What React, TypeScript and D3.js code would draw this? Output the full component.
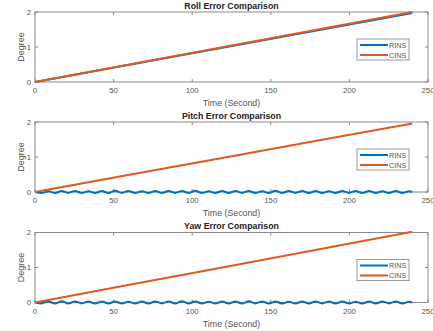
import React from "react";
import * as d3 from "d3";

// Sampled times (s) of the straight error drifts
const driftTime = [0, 60, 120, 180, 240];
const rollRins = [0, 0.49, 0.985, 1.475, 1.97];
const rollCins = [0, 0.5, 1.0, 1.5, 2.0];
const pitchCins = [0, 0.49, 0.98, 1.47, 1.96];
const yawCins = [0, 0.505, 1.01, 1.515, 2.02];

// RINS pitch / yaw errors: small oscillation around zero
const rinsTime = [
  0, 4.2, 8.5, 12.7, 17.0, 21.2, 25.5, 29.7, 34.0, 38.2, 42.5, 46.7, 51.0, 55.2, 59.5,
  63.7, 68.0, 72.2, 76.5, 80.7, 85.0, 89.2, 93.5, 97.7, 102.0, 106.2, 110.5, 114.7,
  119.0, 123.2, 127.5, 131.7, 136.0, 140.2, 144.5, 148.7, 153.0, 157.2, 161.5, 165.7,
  170.0, 174.2, 178.5, 182.7, 187.0, 191.2, 195.5, 199.7, 204.0, 208.2, 212.5, 216.7,
  221.0, 225.2, 229.5, 233.7, 238.0, 240,
];
const pitchRins = [
  0, -0.03, 0.025, -0.03, 0.03, -0.025, 0.03, -0.03, 0.025, -0.03, 0.03, -0.03, 0.035, -0.025,
  0.03, -0.03, 0.025, -0.03, 0.03, -0.03, 0.03, -0.025, 0.03, -0.03, 0.035, -0.03, 0.025,
  -0.03, 0.03, -0.03, 0.03, -0.025, 0.03, -0.03, 0.025, -0.03, 0.035, -0.03, 0.03, -0.025,
  0.03, -0.03, 0.03, -0.03, 0.025, -0.03, 0.03, -0.025, 0.03, -0.03, 0.03, -0.03, 0.025,
  -0.03, 0.03, -0.03, 0.02, 0,
];
const yawRins = [
  0, -0.025, 0.03, -0.03, 0.035, -0.03, 0.03, -0.025, 0.03, -0.03, 0.03, -0.03, 0.03, -0.03,
  0.025, -0.03, 0.03, -0.03, 0.03, -0.025, 0.03, -0.03, 0.035, -0.03, 0.03, -0.03, 0.025,
  -0.03, 0.03, -0.03, 0.03, -0.03, 0.035, -0.025, 0.03, -0.03, 0.03, -0.03, 0.025, -0.03,
  0.03, -0.03, 0.03, -0.025, 0.03, -0.03, 0.03, -0.03, 0.025, -0.03, 0.03, -0.03, 0.03,
  -0.025, 0.03, -0.03, 0.02, 0,
];

const xTicks = [0, 50, 100, 150, 200, 250];
const yTicks = [0, 1, 2];
const seriesNames = ["RINS", "CINS"];
const panelTitles = ["Roll Error Comparison", "Pitch Error Comparison", "Yaw Error Comparison"];

const W = 433;
const H = 331;
const BLUE = "#0072BD";
const ORANGE = "#DE5A1F";
const AXIS = "#8a8a8a";
const TEXT = "#555";
const FONT = "'Liberation Sans', Arial, sans-serif";

type Pt = [number, number];
const zip = (t: number[], v: number[]): Pt[] => t.map((d, i) => [d, v[i]]);

const panels = [
  { title: panelTitles[0], rins: zip(driftTime, rollRins), cins: zip(driftTime, rollCins), smooth: false },
  { title: panelTitles[1], rins: zip(rinsTime, pitchRins), cins: zip(driftTime, pitchCins), smooth: true },
  { title: panelTitles[2], rins: zip(rinsTime, yawRins), cins: zip(driftTime, yawCins), smooth: true },
];

const left = 35;
const right = 428;
const panelTop = [12, 122, 232.5];
const plotH = 70;

function Panel({ top, p }: { top: number; p: (typeof panels)[number] }) {
  const x = d3.scaleLinear().domain([0, 250]).range([left, right]);
  const y = d3.scaleLinear().domain([0, 2]).range([top + plotH, top]);
  const lineStraight = d3.line<Pt>().x((d) => x(d[0])).y((d) => y(d[1]));
  const lineSmooth = d3
    .line<Pt>()
    .x((d) => x(d[0]))
    .y((d) => y(d[1]))
    .curve(d3.curveMonotoneX);
  const rinsPath = (p.smooth ? lineSmooth : lineStraight)(p.rins) || "";
  const cinsPath = lineStraight(p.cins) || "";
  const bottom = top + plotH;
  const tick = 3;
  const lx = 357;
  const ly = top + 27;
  return (
    <g>
      <rect x={left} y={top} width={right - left} height={plotH} fill="#fff" stroke={AXIS} strokeWidth={1} />
      {xTicks.map((t) => (
        <g key={"x" + t}>
          <line x1={x(t)} x2={x(t)} y1={bottom} y2={bottom - tick} stroke={AXIS} />
          <line x1={x(t)} x2={x(t)} y1={top} y2={top + tick} stroke={AXIS} />
          <text x={x(t)} y={bottom + 11} textAnchor="middle" fontSize={7.8} fill={TEXT} fontFamily={FONT}>
            {t}
          </text>
        </g>
      ))}
      {yTicks.map((t) => (
        <g key={"y" + t}>
          <line x1={left} x2={left + tick} y1={y(t)} y2={y(t)} stroke={AXIS} />
          <line x1={right} x2={right - tick} y1={y(t)} y2={y(t)} stroke={AXIS} />
          <text x={31} y={y(t) + 2.8} textAnchor="end" fontSize={7.8} fill={TEXT} fontFamily={FONT}>
            {t}
          </text>
        </g>
      ))}
      <path d={rinsPath} fill="none" stroke={BLUE} strokeWidth={2} strokeLinejoin="round" />
      <path d={cinsPath} fill="none" stroke={ORANGE} strokeWidth={2} strokeLinejoin="round" />
      <text x={(left + right) / 2} y={top - 3.5} textAnchor="middle" fontSize={8.8} fontWeight="bold" fill="#222" fontFamily={FONT}>
        {p.title}
      </text>
      <text x={(left + right) / 2} y={bottom + 24} textAnchor="middle" fontSize={8.8} fill={TEXT} fontFamily={FONT}>
        Time (Second)
      </text>
      <text
        transform={`translate(24, ${top + plotH / 2}) rotate(-90)`}
        textAnchor="middle"
        fontSize={9}
        fill={TEXT}
        fontFamily={FONT}
      >
        Degree
      </text>
      <g>
        <rect x={lx} y={ly} width={52} height={21} fill="#fff" stroke="#999" strokeWidth={1} />
        {seriesNames.map((n, i) => (
          <g key={n}>
            <line
              x1={lx + 3}
              x2={lx + 31}
              y1={ly + 6 + i * 10}
              y2={ly + 6 + i * 10}
              stroke={i === 0 ? BLUE : ORANGE}
              strokeWidth={2}
            />
            <text x={lx + 32} y={ly + 8.5 + i * 10} fontSize={7.2} fill={TEXT} fontFamily={FONT}>
              {n}
            </text>
          </g>
        ))}
      </g>
    </g>
  );
}

export default function App() {
  return (
    <svg
      width={W}
      height={H}
      viewBox={`0 0 ${W} ${H}`}
      style={{ position: "absolute", left: 0, top: 0, background: "#fff" }}
    >
      <rect width={W} height={H} fill="#fff" />
      {panels.map((p, i) => (
        <Panel key={i} top={panelTop[i]} p={p} />
      ))}
    </svg>
  );
}
